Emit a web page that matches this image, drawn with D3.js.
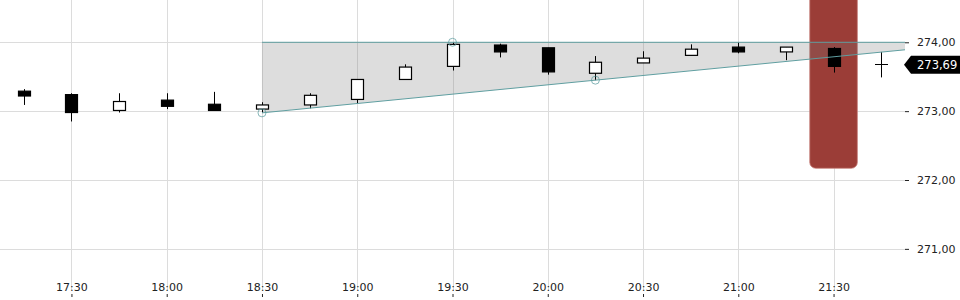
<!DOCTYPE html>
<html><head><meta charset="utf-8">
<script src="https://cdn.jsdelivr.net/npm/d3@7/dist/d3.min.js"></script>
<style>
html,body{margin:0;padding:0;background:#fff;}
svg{display:block;font-family:"DejaVu Sans",sans-serif;}
</style></head>
<body>
<svg id="chart" width="960" height="300"></svg>
<script>
const times = ["17:15","17:30","17:45","18:00","18:15","18:30","18:45","19:00","19:15","19:30","19:45","20:00","20:15","20:30","20:45","21:00","21:15","21:30","21:45"];
const openV  = [273.29,273.24,273.01,273.16,273.10,273.03,273.09,273.17,273.46,273.65,273.96,273.92,273.55,273.70,273.81,273.93,273.86,273.91,273.69];
const highV  = [273.32,273.26,273.26,273.26,273.28,273.13,273.26,273.46,273.68,274.00,273.98,273.92,273.80,273.87,273.97,274.00,273.93,273.93,273.86];
const lowV   = [273.09,272.85,272.98,273.03,273.01,272.98,273.04,273.11,273.46,273.59,273.78,273.53,273.45,273.70,273.81,273.84,273.74,273.56,273.49];
const closeV = [273.22,272.98,273.14,273.07,273.01,273.09,273.23,273.46,273.64,273.97,273.86,273.57,273.71,273.77,273.90,273.86,273.93,273.65,273.69];

const xTickLabels = ["17:30","18:00","18:30","19:00","19:30","20:00","20:30","21:00","21:30"];
const yTickValues = [271,272,273,274];
const trendTimes  = ["18:30","19:30","20:15"];
const trendPrices = [272.975,274.00,273.45];
const highlightTime = "21:30";
const highlightLow = 272.17;
const lastPrice = 273.69;

const parseT = s => { const [h,m] = s.split(":").map(Number); return new Date(2024,0,1,h,m); };
const fmtPrice = v => v.toFixed(2).replace(".", ",");

const svg = d3.select("#chart");
const plotW = 905;
const x = d3.scaleTime()
  .domain([new Date(2024,0,1,17,7,30), new Date(2024,0,1,21,52,30)])
  .range([0, plotW]);
const y = d3.scaleLinear()
  .domain([270.548, 274.614])
  .range([280, 0]);

const half = (x(parseT("17:30")) - x(parseT("17:15"))) / 2;

// grid
const grid = svg.append("g");
grid.selectAll("line.h").data(yTickValues).join("line")
  .attr("x1", 0).attr("x2", plotW)
  .attr("y1", d => Math.round(y(d)) + 0.5).attr("y2", d => Math.round(y(d)) + 0.5)
  .attr("stroke", "#dcdcdc").attr("stroke-width", 1);
grid.selectAll("line.v").data(xTickLabels).join("line")
  .attr("x1", d => Math.round(x(parseT(d))) + 0.5).attr("x2", d => Math.round(x(parseT(d))) + 0.5)
  .attr("y1", 0).attr("y2", 290)
  .attr("stroke", "#dcdcdc").attr("stroke-width", 1);

// highlight
const hx = x(parseT(highlightTime));
svg.append("rect")
  .attr("x", hx - half).attr("width", 2 * half)
  .attr("y", -12).attr("height", y(highlightLow) + 12)
  .attr("rx", 6)
  .attr("fill", "#9b3d37").attr("stroke", "#c9847f").attr("stroke-width", 0.8);

// trend channel
const t1 = parseT(trendTimes[0]), t2 = parseT(trendTimes[1]), t3 = parseT(trendTimes[2]);
const tEnd = x.domain()[1];
const slope = (trendPrices[2] - trendPrices[0]) / (t3 - t1);
const endLow = trendPrices[0] + slope * (tEnd - t1);
const poly = [[x(t1), y(trendPrices[1])],[x(tEnd), y(trendPrices[1])],[x(tEnd), y(endLow)],[x(t1), y(trendPrices[0])]];
svg.append("path")
  .attr("d", d3.line()(poly) + "Z")
  .attr("fill", "#777").attr("fill-opacity", 0.25);

// candles
const candles = svg.append("g");
times.forEach((t, i) => {
  const cx = Math.round(x(parseT(t))) + 0.5;
  const o = openV[i], c = closeV[i], h = highV[i], l = lowV[i];
  candles.append("line")
    .attr("x1", cx).attr("x2", cx).attr("y1", y(h)).attr("y2", y(l))
    .attr("stroke", "#000").attr("stroke-width", 1);
  if (o === c) {
    candles.append("line")
      .attr("x1", cx - 6.5).attr("x2", cx + 6.5).attr("y1", Math.round(y(o)) + 0.5).attr("y2", Math.round(y(o)) + 0.5)
      .attr("stroke", "#000").attr("stroke-width", 1);
  } else {
    const top = y(Math.max(o, c)), bot = y(Math.min(o, c));
    candles.append("rect")
      .attr("x", cx - 6).attr("width", 12)
      .attr("y", top).attr("height", Math.max(1, bot - top))
      .attr("fill", c > o ? "#fff" : "#000")
      .attr("stroke", "#000").attr("stroke-width", 1.2);
  }
});

// trend lines
const teal = "#5f9ea0";
svg.append("line")
  .attr("x1", x(t1)).attr("x2", x(tEnd)).attr("y1", y(trendPrices[1])).attr("y2", y(trendPrices[1]))
  .attr("stroke", teal).attr("stroke-width", 1);
svg.append("line")
  .attr("x1", x(t1)).attr("x2", x(tEnd)).attr("y1", y(trendPrices[0])).attr("y2", y(endLow))
  .attr("stroke", teal).attr("stroke-width", 1);
svg.selectAll("circle.tp").data(trendTimes).join("circle")
  .attr("cx", (d) => x(parseT(d))).attr("cy", (d, i) => y(trendPrices[i]))
  .attr("r", 4).attr("fill", "none").attr("stroke", teal).attr("stroke-opacity", 0.75).attr("stroke-width", 1);

// right axis
const yAxis = d3.axisRight(y).tickValues(yTickValues).tickFormat(fmtPrice).tickSize(4).tickPadding(8);
const ya = svg.append("g").attr("transform", `translate(${plotW},0)`).call(yAxis);
ya.select(".domain").remove();
ya.selectAll("text").attr("font-size", 11).attr("fill", "#222").attr("font-family", "DejaVu Sans");
ya.selectAll("line").attr("stroke", "#222");

// bottom axis
const xAxis = d3.axisBottom(x).tickValues(xTickLabels.map(parseT)).tickFormat(d3.timeFormat("%H:%M")).tickSize(0);
const xa = svg.append("g").attr("transform", "translate(0,280)").call(xAxis);
xa.select(".domain").remove();
xa.selectAll("text").attr("font-size", 11).attr("fill", "#222").attr("font-family", "DejaVu Sans").attr("dy", 0).attr("y", 11);
xa.selectAll(".tick").append("line").attr("y1", 14).attr("y2", 17).attr("stroke", "#222");

// last price label
const ly = y(lastPrice) + 1;
svg.append("path")
  .attr("d", d3.line()([[plotW - 1, ly],[plotW + 6, ly - 9],[960, ly - 9],[960, ly + 9],[plotW + 6, ly + 9]]) + "Z")
  .attr("fill", "#000");
svg.append("text")
  .attr("x", 917).attr("y", ly + 4).attr("fill", "#fff")
  .attr("font-size", 11.5).text(fmtPrice(lastPrice));
</script>
</body></html>
